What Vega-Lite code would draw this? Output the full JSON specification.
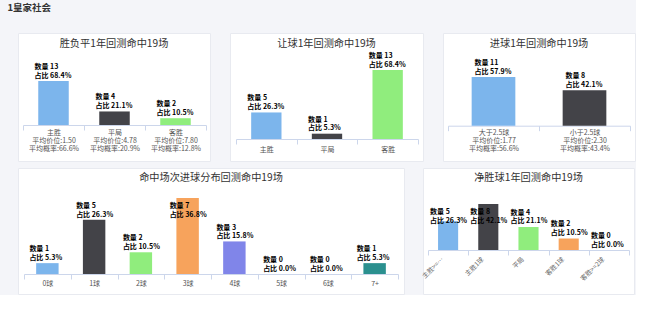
{
  "$schema": "https://vega.github.io/schema/vega-lite/v6.json",
  "background": "#f4f5f9",
  "padding": {"left": 7, "top": 3, "right": 0, "bottom": 0},
  "title": {"text": "1皇家社会", "anchor": "start", "dx": -10, "fontSize": 9.5, "fontWeight": "bold", "color": "#333333", "font": "Noto Sans CJK SC", "offset": 20, "baseline": "top"},
  "datasets": {
    "p1": [
      {"cat": "主胜", "count": 13, "pct": 68.4, "lab": "主胜|平均价位:1.50|平均概率:66.6%"},
      {"cat": "平局", "count": 4, "pct": 21.1, "lab": "平局|平均价位:4.78|平均概率:20.9%"},
      {"cat": "客胜", "count": 2, "pct": 10.5, "lab": "客胜|平均价位:7.80|平均概率:12.8%"}
    ],
    "p2": [
      {"cat": "主胜", "count": 5, "pct": 26.3, "lab": "主胜"},
      {"cat": "平局", "count": 1, "pct": 5.3, "lab": "平局"},
      {"cat": "客胜", "count": 13, "pct": 68.4, "lab": "客胜"}
    ],
    "p3": [
      {"cat": "大于2.5球", "count": 11, "pct": 57.9, "lab": "大于2.5球|平均价位:1.77|平均概率:56.6%"},
      {"cat": "小于2.5球", "count": 8, "pct": 42.1, "lab": "小于2.5球|平均价位:2.30|平均概率:43.4%"}
    ],
    "p4": [
      {"cat": "0球", "count": 1, "pct": 5.3, "lab": "0球"},
      {"cat": "1球", "count": 5, "pct": 26.3, "lab": "1球"},
      {"cat": "2球", "count": 2, "pct": 10.5, "lab": "2球"},
      {"cat": "3球", "count": 7, "pct": 36.8, "lab": "3球"},
      {"cat": "4球", "count": 3, "pct": 15.8, "lab": "4球"},
      {"cat": "5球", "count": 0, "pct": 0.0, "lab": "5球"},
      {"cat": "6球", "count": 0, "pct": 0.0, "lab": "6球"},
      {"cat": "7+", "count": 1, "pct": 5.3, "lab": "7+"}
    ],
    "p5": [
      {"cat": "主胜>=2球", "count": 5, "pct": 26.3, "lab": "主胜>=2球"},
      {"cat": "主胜1球", "count": 8, "pct": 42.1, "lab": "主胜1球"},
      {"cat": "平局", "count": 4, "pct": 21.1, "lab": "平局"},
      {"cat": "客胜1球", "count": 2, "pct": 10.5, "lab": "客胜1球"},
      {"cat": "客胜>=2球", "count": 0, "pct": 0.0, "lab": "客胜>=2球"}
    ]
  },
  "spacing": 5,
  "resolve": {"scale": {"color": "independent", "x": "independent", "y": "independent"}},
  "vconcat": [
    {
      "spacing": 20,
      "bounds": "flush",
      "resolve": {"scale": {"color": "independent", "x": "independent", "y": "independent"}},
      "hconcat": [
        {
          "width": 192, "height": 128,
          "data": {"name": "p1"},
          "title": {"text": "胜负平1年回测命中19场", "offset": -16},
          "transform": [{"calculate": "'数量 ' + datum.count + '\\n占比 ' + format(datum.pct, '.1f') + '%'", "as": "label"}],
          "encoding": {
            "x": {"field": "lab", "type": "nominal", "sort": null, "title": null,
                  "scale": {"range": [5, 188], "paddingInner": 0, "paddingOuter": 0},
                  "axis": {"offset": -36, "labelExpr": "split(datum.label, '|')", "labelPadding": -1.2}},
            "y": {"field": "count", "type": "quantitative", "scale": {"domain": [0, 13], "range": [92, 48], "nice": false}, "axis": null}
          },
          "layer": [
            {"mark": {"type": "bar", "width": {"band": 0.5}},
             "encoding": {"color": {"field": "cat", "type": "nominal", "sort": null, "scale": {"range": ["#7cb5ec", "#434348", "#90ed7d"]}, "legend": null}}},
            {"mark": {"type": "text", "align": "left", "baseline": "bottom", "dx": -19, "dy": -11, "lineBreak": "\n", "lineHeight": 8.5, "fontSize": 7},
             "encoding": {"text": {"field": "label"}}}
          ]
        },
        {
          "width": 193, "height": 128,
          "data": {"name": "p2"},
          "title": {"text": "让球1年回测命中19场", "offset": -16},
          "transform": [{"calculate": "'数量 ' + datum.count + '\\n占比 ' + format(datum.pct, '.1f') + '%'", "as": "label"}],
          "encoding": {
            "x": {"field": "lab", "type": "nominal", "sort": null, "title": null,
                  "scale": {"range": [6, 188], "paddingInner": 0, "paddingOuter": 0},
                  "axis": {"offset": -22, "labelPadding": 1}},
            "y": {"field": "count", "type": "quantitative", "scale": {"domain": [0, 13], "range": [106, 37], "nice": false}, "axis": null}
          },
          "layer": [
            {"mark": {"type": "bar", "width": {"band": 0.5}},
             "encoding": {"color": {"field": "cat", "type": "nominal", "sort": null, "scale": {"range": ["#7cb5ec", "#434348", "#90ed7d"]}, "legend": null}}},
            {"mark": {"type": "text", "align": "left", "baseline": "bottom", "dx": -19, "dy": -11, "lineBreak": "\n", "lineHeight": 8.5, "fontSize": 7},
             "encoding": {"text": {"field": "label"}}}
          ]
        },
        {
          "width": 192, "height": 128,
          "data": {"name": "p3"},
          "title": {"text": "进球1年回测命中19场", "offset": -16},
          "transform": [{"calculate": "'数量 ' + datum.count + '\\n占比 ' + format(datum.pct, '.1f') + '%'", "as": "label"}],
          "encoding": {
            "x": {"field": "lab", "type": "nominal", "sort": null, "title": null,
                  "scale": {"range": [5, 187], "paddingInner": 0, "paddingOuter": 0},
                  "axis": {"offset": -35.3, "labelExpr": "split(datum.label, '|')", "labelPadding": -2}},
            "y": {"field": "count", "type": "quantitative", "scale": {"domain": [0, 11], "range": [92.7, 44], "nice": false}, "axis": null}
          },
          "layer": [
            {"mark": {"type": "bar", "width": {"band": 0.48}},
             "encoding": {"color": {"field": "cat", "type": "nominal", "sort": null, "scale": {"range": ["#7cb5ec", "#434348"]}, "legend": null}}},
            {"mark": {"type": "text", "align": "left", "baseline": "bottom", "dx": -19, "dy": -11, "lineBreak": "\n", "lineHeight": 8.5, "fontSize": 7},
             "encoding": {"text": {"field": "label"}}}
          ]
        }
      ]
    },
    {
      "spacing": 19,
      "bounds": "flush",
      "resolve": {"scale": {"color": "independent", "x": "independent", "y": "independent"}},
      "hconcat": [
        {
          "width": 386, "height": 126,
          "data": {"name": "p4"},
          "title": {"text": "命中场次进球分布回测命中19场", "offset": -15.5},
          "transform": [{"calculate": "'数量 ' + datum.count + '\\n占比 ' + format(datum.pct, '.1f') + '%'", "as": "label"}],
          "encoding": {
            "x": {"field": "lab", "type": "nominal", "sort": null, "title": null,
                  "scale": {"range": [6, 380], "paddingInner": 0, "paddingOuter": 0},
                  "axis": {"offset": -20, "labelPadding": 0}}
          },
          "resolve": {"scale": {"y": "independent"}},
          "layer": [
            {"mark": {"type": "bar", "width": {"band": 0.48}},
             "encoding": {
               "y": {"field": "count", "type": "quantitative", "scale": {"domain": [0, 7], "range": [106, 30], "nice": false}, "axis": null},
               "color": {"field": "cat", "type": "nominal", "sort": null, "scale": {"range": ["#7cb5ec", "#434348", "#90ed7d", "#f7a35c", "#8085e9", "#f15c80", "#e4d354", "#2b908f"]}, "legend": null}}},
            {"mark": {"type": "text", "align": "left", "baseline": "bottom", "dx": -18, "dy": -11, "lineBreak": "\n", "lineHeight": 8.5, "fontSize": 7},
             "encoding": {
               "y": {"field": "count", "type": "quantitative", "scale": {"domain": [0, 5], "range": [106, 52], "nice": false, "clamp": true}, "axis": null},
               "text": {"field": "label"}}}
          ]
        },
        {
          "width": 211, "height": 126,
          "data": {"name": "p5"},
          "title": {"text": "净胜球1年回测命中19场", "offset": -15.5},
          "transform": [{"calculate": "'数量 ' + datum.count + '\\n占比 ' + format(datum.pct, '.1f') + '%'", "as": "label"}],
          "encoding": {
            "x": {"field": "lab", "type": "nominal", "sort": null, "title": null,
                  "scale": {"range": [5, 206], "paddingInner": 0, "paddingOuter": 0},
                  "axis": {"offset": -44, "labelAngle": -45, "labelAlign": "right", "labelBaseline": "middle", "labelFontSize": 6.5, "labelOffset": -6, "labelPadding": 3, "labelColor": "#666666",
                           "labelExpr": "datum.label == '主胜>=2球' ? '主胜>=…' : datum.label"}}
          },
          "resolve": {"scale": {"y": "independent"}},
          "layer": [
            {"mark": {"type": "bar", "width": {"band": 0.5}},
             "encoding": {
               "y": {"field": "count", "type": "quantitative", "scale": {"domain": [0, 8], "range": [82, 36], "nice": false}, "axis": null},
               "color": {"field": "cat", "type": "nominal", "sort": null, "scale": {"range": ["#7cb5ec", "#434348", "#90ed7d", "#f7a35c", "#8085e9"]}, "legend": null}}},
            {"mark": {"type": "text", "align": "left", "baseline": "bottom", "dx": -18, "dy": -11, "lineBreak": "\n", "lineHeight": 8.5, "fontSize": 7},
             "encoding": {
               "y": {"field": "count", "type": "quantitative", "scale": {"domain": [0, 4.17], "range": [82, 58], "nice": false, "clamp": true}, "axis": null},
               "text": {"field": "label"}}}
          ]
        }
      ]
    }
  ],
  "config": {
    "view": {"fill": "#ffffff", "stroke": "#e8eaf0", "strokeWidth": 1},
    "title": {"font": "Noto Sans CJK SC", "fontSize": 10.2, "fontWeight": "normal", "color": "#333333", "anchor": "middle", "baseline": "bottom"},
    "axis": {"domainColor": "#ccd6eb", "tickColor": "#ccd6eb", "tickSize": 5, "labelFont": "Noto Sans CJK SC", "labelFontSize": 7, "labelColor": "#555555", "labelAngle": 0, "grid": false, "labelOverlap": false, "labelBound": false, "tickBand": "extent", "labelLineHeight": 8},
    "text": {"font": "Noto Sans CJK SC", "fontSize": 7, "fontWeight": "bold", "color": "#000000", "lineHeight": 8.5}
  }
}
